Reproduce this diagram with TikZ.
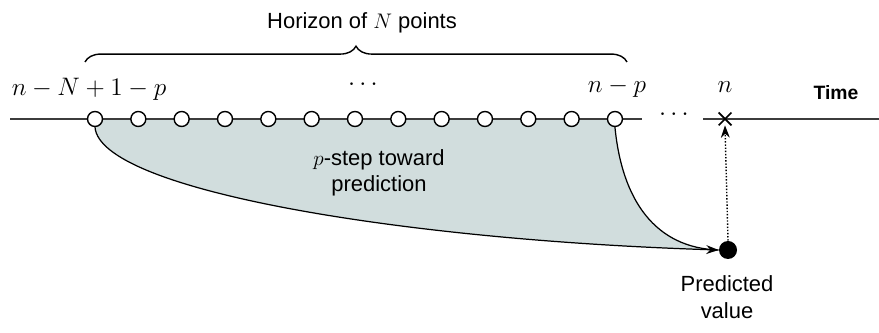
\documentclass[tikz,border=0pt]{standalone}
\usepackage{fontspec}
\setmainfont{Liberation Sans}
\usepackage{amsmath}
\usetikzlibrary{arrows.meta,decorations.pathreplacing,shapes.misc,backgrounds}
\definecolor{regiongray}{RGB}{209,221,221}
\definecolor{axisgray}{RGB}{60,60,60}

\begin{document}
\begin{tikzpicture}[x=0.02cm, y=-0.02cm, >={Stealth[length=7pt,width=5pt]},
    hollow/.style={circle, draw, fill=white, thick, inner sep=0pt, minimum size=0.3cm},
    axis/.style={axisgray, line width=0.8pt},
    flow/.style={black, line width=0.7pt},
    lbl/.style={font=\fontsize{12.5}{15}\selectfont, align=center}]
    \useasboundingbox (0,0) rectangle (879,333);
    % time axis with the horizon points
    \coordinate (axl) at (10,119);
    \coordinate (gapl) at (642,119);
    \coordinate (gapr) at (703,119);
    \coordinate (axr) at (879,119);
    \draw[axis] (axl) -- (gapl);
    \draw[axis] (gapr) -- (axr);
    \foreach \i in {1,...,13}
      \node[hollow] (c\i) at ({95+43.33*(\i-1)}, 119) {};
    \node[font=\Large] (gapdots) at (676,115) {$\cdots$};
    \node[cross out, draw, line width=1pt, inner sep=0pt, minimum size=0.22cm] (now) at (725,119) {};
    \node[circle, fill=black, inner sep=0pt, minimum size=0.36cm] (pv) at (728,250) {};
    % region swept by the prediction
    \begin{pgfonlayer}{background}
      \fill[regiongray] (c1.center) -- (c13.center) -- (c13.south) .. controls (622,200) and (655,248) .. (pv.west)
          .. controls (400,240) and (100,190) .. (c1.south) -- cycle;
    \end{pgfonlayer}
    \draw[flow] (c13.south) .. controls (622,200) and (655,248) .. (pv.west);
    \draw[flow, ->] (c1.south) .. controls (100,190) and (400,240) .. (pv.west);
    \draw[densely dotted, line width=0.8pt, ->] (pv.north) -- (now.south);
    % labels
    \draw[line width=0.8pt, decorate, decoration={brace, amplitude=9pt}] (85,62) -- (627,62);
    \node[lbl] (horizon) at (362,23) {Horizon of $N$ points};
    \node[font=\fontsize{14}{16}\selectfont] (first) at (89,89) {$n-N+1-p$};
    \node[font=\fontsize{14}{16}\selectfont] (middots) at (365,85) {$\cdots$};
    \node[font=\fontsize{14}{16}\selectfont] (last) at (617,88) {$n-p$};
    \node[font=\fontsize{14}{16}\selectfont] (nlab) at (725,87) {$n$};
    \node[font=\fontsize{11}{13}\selectfont\bfseries] (time) at (836,93) {Time};
    \node[lbl] (steps) at (379,173) {$p$-step toward\\prediction};
    \node[lbl] (pred) at (727,297) {Predicted\\value};
  \end{tikzpicture}
\end{document}
